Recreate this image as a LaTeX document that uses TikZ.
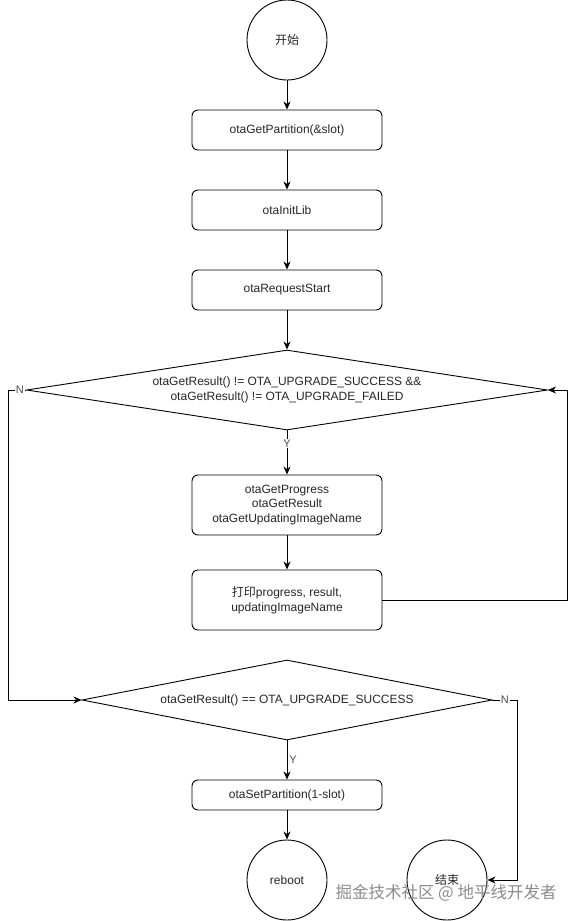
\documentclass[tikz,border=0pt]{standalone}
\usepackage{fontspec}
\setmainfont{Liberation Sans}
\newfontfamily\cjk{Noto Sans CJK SC}
\usetikzlibrary{shapes.geometric,arrows.meta}

\tikzstyle{proc} =[draw, rounded corners=6pt, minimum width=190pt,
minimum height=40pt, inner sep=0pt, align=center]
\tikzstyle{term} =[shape=circle, draw, minimum size=80pt, inner sep=0pt]
\tikzstyle{decide} =[shape=diamond, draw, shape aspect=6.5, inner sep=0pt,
align=center]
\tikzstyle{arr} =[-{Stealth[length=8pt,width=7pt,inset=2.5pt]}]
\tikzstyle{lbl} =[fill=white, inner sep=1pt, text=black!70, font=\fontsize{11}{13}\selectfont]

\begin{document}
\begin{tikzpicture}[x=1pt, y=-1pt, line width=0.9pt, text=black!85,
	font=\fontsize{12}{14.5}\selectfont]
	\useasboundingbox (0,0) rectangle (576,921);
	\node[term] (start) at (287,40) {\cjk 开始};
	\node[proc] (getpart) at (287,130) {otaGetPartition(\&slot)};
	\node[proc] (initlib) at (287,210) {otaInitLib};
	\node[proc] (reqstart) at (287,290) {otaRequestStart};
	\node[decide, minimum width=521pt, minimum height=80pt] (loop) at (287,390)
	{otaGetResult() != OTA\_UPGRADE\_SUCCESS \&\&\\
		otaGetResult() != OTA\_UPGRADE\_FAILED};
	\node[proc, minimum height=60pt] (progress) at (287,505)
	{otaGetProgress\\otaGetResult\\otaGetUpdatingImageName};
	\node[proc, minimum height=60pt] (printinfo) at (287,600)
	{{\cjk 打印}progress, result,\\updatingImageName};
	\node[decide, minimum width=410pt, minimum height=80pt] (success) at (287,700)
	{otaGetResult() == OTA\_UPGRADE\_SUCCESS};
	\node[proc, minimum height=30pt] (setpart) at (287,795) {otaSetPartition(1-slot)};
	\node[term] (reboot) at (287,880) {reboot};
	\node[term] (finish) at (447,880) {\cjk 结束};
	\coordinate (nleft) at (8,390);
	\coordinate (back) at (567,600);
	\coordinate (nright) at (517,700);

	\draw[arr] (start) -- (getpart);
	\draw[arr] (getpart) -- (initlib);
	\draw[arr] (initlib) -- (reqstart);
	\draw[arr] (reqstart) -- (loop);
	\draw[arr] (loop) -- node[lbl, pos=0.3] (ylabel) {Y} (progress);
	\draw[arr] (progress) -- (printinfo);
	\draw[arr] (printinfo) -- (back) |- (loop.east);
	\draw[arr] (loop.west) -- node[lbl, pos=0.35] (nlabel) {N} (nleft) |- (success.west);
	\draw[arr] (success) -- node[right, inner sep=2pt, text=black!70,
	font=\fontsize{11}{13}\selectfont] (ylabel2) {Y} (setpart);
	\draw[arr] (success.east) -- node[lbl] (nlabel2) {N} (nright) |- (finish.east);
	\draw[arr] (setpart) -- (reboot);

	\node[text=black!45, font=\cjk\fontsize{16.5}{18}\selectfont] (mark) at (446,893)
	{掘金技术社区 @ 地平线开发者};
\end{tikzpicture}
\end{document}
